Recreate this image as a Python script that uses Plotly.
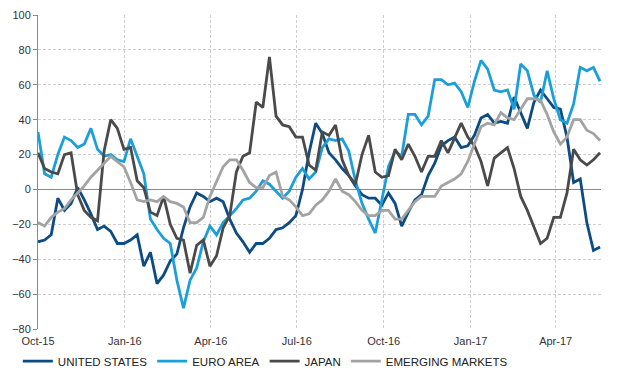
import pandas as pd
import plotly.graph_objects as go

dates = pd.date_range("2015-10-01", periods=86, freq="7D")

united_states = [-30, -29, -26, -5, -12, -8, 1, -6, -14, -23, -21, -24, -31, -31, -29, -26,
                 -44, -36, -54, -49, -41, -37, -22, -10, -2, -4, -7, -5, -7, -17, -25, -30,
                 -36, -31, -31, -28, -23, -22, -19, -15, 0, 21, 38, 32, 21, 17, 12, 8,
                 2, -3, -5, -5, -9, -2, -8, -21, -13, -6, -3, 8, 15, 25, 28, 30,
                 24, 25, 31, 41, 43, 38, 39, 38, 53, 44, 35, 50, 57, 52, 47, 46,
                 30, 4, 6, -19, -35, -33]

euro_area = [33, 9, 7, 20, 30, 28, 24, 26, 35, 23, 19, 20, 17, 16, 29, 19,
             9, -17, -23, -28, -31, -52, -68, -52, -45, -30, -21, -26, -19, -15, -11, -6,
             -5, -1, 5, 3, -1, -5, -1, 7, 12, 6, 10, 24, 29, 28, 29, 22,
             5, -8, -17, -25, -6, 13, 22, 19, 43, 43, 37, 42, 63, 63, 60, 61,
             56, 47, 62, 74, 69, 57, 56, 57, 46, 72, 68, 54, 50, 68, 52, 40,
             38, 49, 70, 68, 70, 62]

japan = [21, 12, 10, 9, 20, 21, -3, -12, -16, -18, 22, 40, 35, 23, 24, 5,
         1, -13, -15, -4, -20, -28, -29, -48, -32, -29, -44, -38, -22, -15, 10, 19,
         21, 50, 47, 76, 42, 37, 36, 30, 30, 14, 11, 33, 31, 37, 17, 8,
         3, 20, 31, 10, 7, 8, 23, 17, 26, 19, 10, 19, 19, 28, 21, 30,
         38, 30, 25, 16, 2, 18, 21, 24, 12, -4, -12, -22, -31, -28, -16, -16,
         -2, 23, 17, 14, 17, 21]

emerging_markets = [-19, -21, -16, -13, -11, -6, -2, 2, 7, 11, 15, 19, 16, 13, 4, -6,
                    -7, -6, -7, -4, -7, -8, -10, -19, -19, -16, -4, 5, 13, 17, 17, 11,
                    4, 1, 1, 8, 10, -4, -6, -10, -15, -14, -9, -6, -1, 6, -1, -3,
                    -7, -12, -15, -15, -12, -12, -17, -17, -12, -7, -4, -4, -4, 2, 4, 6,
                    9, 16, 26, 36, 38, 37, 44, 41, 40, 46, 52, 52, 51, 43, 33, 26,
                    30, 40, 40, 34, 32, 28]

series = [
    ("UNITED STATES", united_states, "#0d4c82"),
    ("EURO AREA", euro_area, "#1c9fd9"),
    ("JAPAN", japan, "#4a4a4a"),
    ("EMERGING MARKETS", emerging_markets, "#a3a3a3"),
]

fig = go.Figure()
for name, vals, color in series:
    fig.add_trace(go.Scatter(x=dates, y=vals, name=name, mode="lines",
                             line=dict(color=color, width=2.8)))

font = dict(family="Liberation Sans, Arial, sans-serif", size=11, color="#333333")
fig.update_layout(
    width=614, height=383,
    margin=dict(l=30, r=21, t=7, b=62, autoexpand=False),
    paper_bgcolor="white", plot_bgcolor="white",
    font=font,
    showlegend=True,
    legend=dict(orientation="h", xref="container", yref="container",
                x=0.016, xanchor="left", y=0.078, yanchor="middle",
                bgcolor="rgba(0,0,0,0)",
                font=dict(family="Liberation Sans, Arial, sans-serif", size=11.5, color="#222222"),
                itemwidth=30, tracegroupgap=0),
    xaxis=dict(type="date", range=["2015-10-01", "2017-05-19"],
               tick0="2015-10-01", dtick="M3", tickformat="%b-%y",
               showgrid=True, gridcolor="#cfcfcf", griddash="3px,2px", gridwidth=1,
               showline=False, automargin=False, ticklabelstandoff=4,
               ticks="", zeroline=False, tickfont=font),
    yaxis=dict(range=[-80, 100], dtick=20, tick0=0,
               showgrid=True, gridcolor="#cfcfcf", griddash="3px,2px", gridwidth=1,
               showline=True, linecolor="#8a8a8a", linewidth=1, automargin=False,
               ticks="outside", ticklen=4, tickcolor="#8a8a8a",
               zeroline=True, zerolinecolor="#8a8a8a", zerolinewidth=1,
               tickfont=font),
)

fig.write_html("out.html")
